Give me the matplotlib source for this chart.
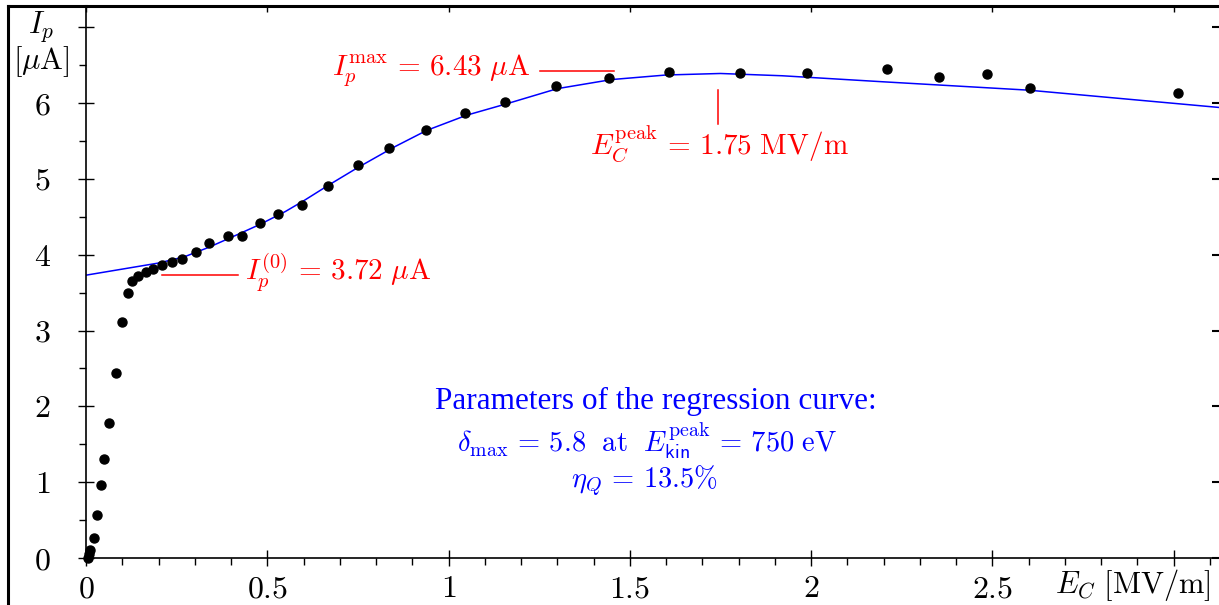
import matplotlib
matplotlib.use('Agg')
import matplotlib.pyplot as plt
from matplotlib.lines import Line2D
from matplotlib.ticker import MultipleLocator, FuncFormatter

plt.rcParams['mathtext.fontset'] = 'cm'
plt.rcParams['font.family'] = ['Liberation Serif', 'DejaVu Serif']

# measured points: field E_C [MV/m], current I_p [uA]
e_meas = [0.005, 0.008, 0.012, 0.022, 0.029, 0.040, 0.050, 0.063, 0.082, 0.099,
          0.116, 0.126, 0.144, 0.165, 0.186, 0.209, 0.238, 0.264, 0.303, 0.340,
          0.391, 0.430, 0.480, 0.530, 0.595, 0.668, 0.751, 0.837, 0.938, 1.044,
          1.156, 1.296, 1.443, 1.608, 1.804, 1.988, 2.210, 2.354, 2.484, 2.605,
          3.013]
i_meas = [0.00, 0.05, 0.10, 0.27, 0.57, 0.96, 1.30, 1.78, 2.44, 3.11,
          3.49, 3.65, 3.72, 3.77, 3.81, 3.87, 3.90, 3.94, 4.04, 4.15,
          4.25, 4.25, 4.42, 4.54, 4.65, 4.91, 5.18, 5.41, 5.65, 5.87,
          6.01, 6.23, 6.33, 6.41, 6.39, 6.40, 6.45, 6.34, 6.38, 6.20,
          6.13]

# regression curve
e_fit = [0.0, 0.1, 0.2, 0.27, 0.34, 0.42, 0.48, 0.55, 0.60, 0.67, 0.75, 0.85,
         0.94, 1.05, 1.16, 1.30, 1.45, 1.60, 1.75, 1.92, 2.20, 2.60, 3.13]
i_fit = [3.73, 3.81, 3.89, 3.97, 4.10, 4.27, 4.40, 4.57, 4.71, 4.92, 5.15, 5.42,
         5.64, 5.84, 5.99, 6.19, 6.31, 6.37, 6.39, 6.36, 6.28, 6.17, 5.94]

W, H = 1219, 605
fig = plt.figure(figsize=(W / 100, H / 100), dpi=100)
ax = fig.add_axes([86 / W, (H - 558) / H, (W - 86) / W, (558 - 6) / H])

ax.plot(e_fit, i_fit, color='#0000ff', lw=1.1)
ax.plot(e_meas, i_meas, 'o', color='black', ms=6.5, clip_on=False)

ax.set_xlim(0, 3.125)
ax.set_ylim(0, 7.28)

ax.xaxis.set_major_locator(MultipleLocator(0.5))
ax.xaxis.set_minor_locator(MultipleLocator(0.1))
ax.yaxis.set_major_locator(MultipleLocator(1))
ax.yaxis.set_minor_locator(MultipleLocator(0.5))

def xfmt(v, p):
    if abs(v - 3) < 1e-6:
        return ''
    return '$%g$' % v

def yfmt(v, p):
    if abs(v - 7) < 1e-6:
        return ''
    return '$%g$' % v

ax.xaxis.set_major_formatter(FuncFormatter(xfmt))
ax.yaxis.set_major_formatter(FuncFormatter(yfmt))

ax.tick_params(which='major', direction='inout', length=11, width=1.0,
               labelsize=23, top=False, right=False)
ax.tick_params(which='minor', direction='out', length=5, width=1.0,
               top=False, right=False)
ax.tick_params(axis='y', which='major', pad=20)
ax.tick_params(axis='x', which='major', pad=7)

# top and right: major ticks only, pointing inward
sec_x = ax.secondary_xaxis('top')
sec_x.xaxis.set_major_locator(MultipleLocator(0.5))
sec_x.tick_params(direction='in', length=4, width=1.0, labelsize=0)
sec_x.set_xticklabels([])
sec_x.spines['top'].set_visible(False)
sec_y = ax.secondary_yaxis('right')
sec_y.yaxis.set_major_locator(MultipleLocator(1))
sec_y.tick_params(direction='in', length=5, width=1.5)
sec_y.set_yticklabels([])
sec_y.spines['right'].set_visible(False)

for s in ['left', 'bottom']:
    ax.spines[s].set_linewidth(1.2)
ax.spines['top'].set_linewidth(2.2)
ax.spines['right'].set_visible(False)

# outer frame on the left and top
fig.add_artist(Line2D([8 / W, 8 / W], [0, 1 - 6 / H], color='black', lw=2.2))
fig.add_artist(Line2D([8 / W, 86 / W], [1 - 6 / H, 1 - 6 / H], color='black', lw=2.2))

# axis labels
fig.text(41 / W, 1 - 27 / H, r'$I_p$', ha='center', va='center', fontsize=22)
fig.text(41 / W, 1 - 62 / H, r'$[\mu\mathrm{A}]$', ha='center', va='center', fontsize=22)
fig.text(1133 / W, 1 - 585 / H, r'$E_C\ [\mathrm{MV/m}]$', ha='center', va='center', fontsize=22)

# red annotations
red = '#ff0000'
ax.plot([1.252, 1.457], [6.42, 6.42], color=red, lw=1.1)
ax.text(1.225, 6.42, r'$I_p^{\max}\,=\,6.43\ \mu\mathrm{A}$', color=red,
        ha='right', va='center', fontsize=21)
ax.plot([1.743, 1.743], [6.17, 5.73], color=red, lw=1.1)
ax.text(1.39, 5.47, r'$E_C^{\mathrm{peak}}\,=\,1.75\ \mathrm{MV/m}$', color=red,
        ha='left', va='center', fontsize=21)
ax.plot([0.209, 0.42], [3.73, 3.73], color=red, lw=1.1)
ax.text(0.439, 3.77, r'$I_p^{(0)}\,=\,3.72\ \mu\mathrm{A}$', color=red,
        ha='left', va='center', fontsize=21)

# blue parameter box
blue = '#0000ff'
ax.text(1.573, 1.966, 'Parameters of the regression curve:', color=blue,
        ha='center', va='baseline', fontsize=22.5)
ax.text(1.548, 1.398, r'$\delta_{\max}\,=\,5.8\ \ \mathrm{at}\ \ E_{\mathsf{kin}}^{\mathrm{peak}}\,=\,750\ \mathrm{eV}$',
        color=blue, ha='center', va='baseline', fontsize=20.5)
ax.text(1.54, 0.937, r'$\eta_Q\,=\,13.5\%$', color=blue, ha='center', va='baseline', fontsize=20.5)

fig.savefig('out.png', dpi=100)
